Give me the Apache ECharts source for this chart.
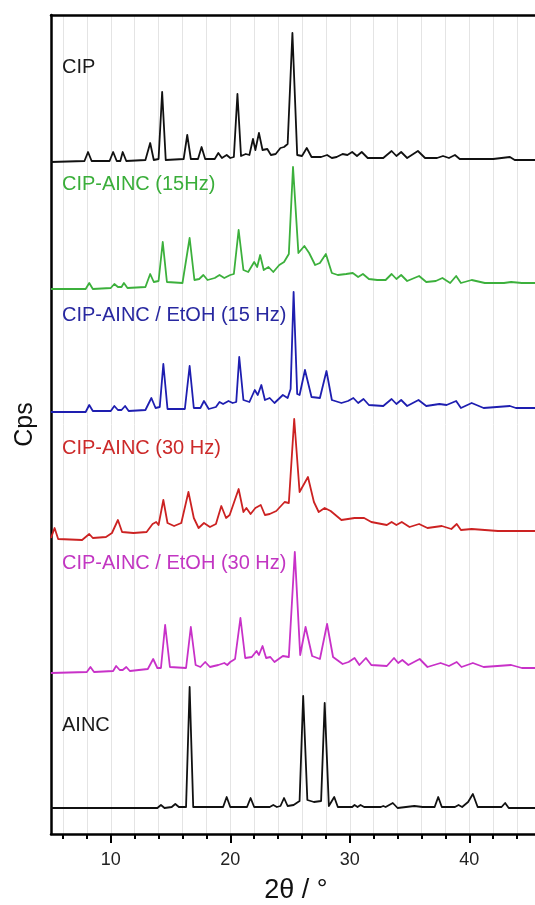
<!DOCTYPE html>
<html>
<head>
<meta charset="utf-8">
<script src="https://cdn.jsdelivr.net/npm/echarts@6/dist/echarts.min.js"></script>
<style>
html,body{margin:0;padding:0;background:#fff;}
#chart{width:535px;height:905px;}
</style>
</head>
<body>
<div id="chart"></div>
<script>
// 2θ tick values
var minorTickValues = [6,8,10,12,14,16,18,20,22,24,26,28,30,32,34,36,38,40,42,44,46];
var majorTickValues = [10,20,30,40];

// Pattern names (top to bottom)
var patternNames = ['CIP','CIP-AINC (15Hz)','CIP-AINC / EtOH (15 Hz)','CIP-AINC (30 Hz)','CIP-AINC / EtOH (30 Hz)','AINC'];

// [2θ, offset intensity]
var cip = [[5.0,672],[7.8,673],[8.1,682],[8.4,673],[9.9,673],[10.2,682],[10.5,673],[10.8,673],[11.0,682],[11.3,673],[12.9,674],[13.3,691],[13.6,674],[14.0,675],[14.3,742],[14.6,674],[16.1,675],[16.4,699],[16.7,675],[17.3,675],[17.6,687],[17.9,675],[18.7,675],[19.0,681],[19.3,676],[19.7,679],[20.0,676],[20.3,677],[20.6,740],[20.9,678],[21.3,680],[21.6,679],[21.9,695],[22.1,684],[22.4,701],[22.7,684],[23.1,685],[23.4,679],[23.8,680],[24.2,686],[24.5,687],[24.8,690],[25.2,801],[25.6,679],[26.0,678],[26.4,686],[26.8,677],[27.6,677],[28.1,679],[28.5,676],[28.9,677],[29.4,680],[29.8,679],[30.2,682],[30.6,678],[31.0,682],[31.5,676],[32.8,676],[33.5,683],[33.9,678],[34.3,682],[34.8,676],[35.7,683],[36.3,676],[37.3,676],[37.8,678],[38.3,676],[38.8,679],[39.2,675],[42.0,675],[43.4,677],[43.8,674],[46.0,674]];

var cipAinc15 = [[5.0,545],[7.9,545],[8.2,551],[8.5,545],[10.0,546],[10.3,550],[10.6,547],[10.9,547],[11.1,551],[11.4,546],[12.9,547],[13.3,560],[13.6,552],[14.0,553],[14.35,592],[14.7,552],[16.0,551],[16.6,596],[17.0,554],[17.4,555],[17.75,559],[18.1,554],[18.7,556],[19.1,559],[19.5,556],[20.0,559],[20.3,560],[20.7,604],[21.1,564],[21.5,562],[22.0,572],[22.25,567],[22.5,579],[22.8,564],[23.2,567],[23.6,562],[24.1,569],[24.5,572],[24.9,580],[25.25,667],[25.7,581],[26.2,588],[26.6,581],[27.1,569],[27.5,571],[28.0,580],[28.5,561],[29.0,559],[29.7,560],[30.25,561],[30.7,557],[31.1,560],[31.6,555],[32.3,554],[33.0,554],[33.5,560],[33.9,555],[34.3,559],[34.8,553],[35.8,558],[36.4,552],[37.2,553],[37.75,556],[38.4,551],[38.9,558],[39.3,551],[40.2,554],[41.3,551],[42.9,551],[43.5,552],[44.4,551],[46.0,551]];

var cipAincEtoh15 = [[5.0,422],[7.9,422],[8.2,429],[8.5,423],[10.0,423],[10.3,428],[10.6,424],[10.9,424],[11.2,428],[11.5,423],[12.9,424],[13.4,436],[13.75,426],[14.1,427],[14.4,470],[14.75,425],[16.2,425],[16.6,468],[16.95,426],[17.5,426],[17.8,433],[18.2,425],[18.8,427],[19.1,432],[19.4,430],[19.85,433],[20.2,431],[20.5,432],[20.75,477],[21.1,434],[21.6,432],[22.05,444],[22.3,439],[22.6,449],[22.9,434],[23.3,436],[23.7,431],[24.4,439],[24.8,436],[25.05,445],[25.3,542],[25.6,440],[25.8,439],[26.25,464],[26.8,437],[27.5,436],[28.05,463],[28.5,434],[29.3,431],[29.85,433],[30.3,436],[30.7,431],[31.15,435],[31.6,429],[32.8,428],[33.5,435],[33.9,430],[34.3,434],[34.8,428],[35.75,434],[36.4,428],[37.5,430],[38.1,429],[38.9,433],[39.3,426],[40.2,431],[41.2,426],[43.4,428],[43.9,426],[46.0,426]];

var cipAinc30 = [[5.0,296],[5.3,306],[5.6,295],[7.6,294],[8.2,300],[8.5,296],[9.6,297],[10.1,301],[10.6,314],[10.95,302],[11.9,301],[13.0,302],[13.5,310],[13.8,312],[14.0,309],[14.4,334],[14.75,311],[15.3,308],[15.9,311],[16.5,342],[16.95,316],[17.35,306],[17.8,311],[18.3,307],[18.8,310],[19.25,328],[19.65,316],[19.95,319],[20.7,345],[21.1,322],[21.35,326],[21.7,320],[22.1,326],[22.55,329],[22.9,319],[23.3,320],[23.85,323],[24.55,332],[24.9,331],[25.35,415],[25.8,342],[26.5,357],[27.0,332],[27.4,322],[27.9,326],[28.4,323],[29.3,314],[30.4,316],[31.2,316],[31.8,312],[33.1,309],[33.5,312],[33.9,309],[34.35,312],[35.0,307],[35.8,310],[36.5,306],[37.7,308],[38.5,305],[38.95,310],[39.3,304],[40.2,305],[42.4,303],[44.4,303],[46.0,303]];

var cipAincEtoh30 = [[5.0,161],[8.0,162],[8.3,167],[8.6,162],[10.2,163],[10.45,168],[10.75,164],[11.0,164],[11.3,167],[11.6,163],[13.1,165],[13.55,175],[13.9,166],[14.2,166],[14.55,209],[14.95,167],[16.3,166],[16.7,207],[17.1,169],[17.5,167],[17.9,172],[18.3,167],[19.0,169],[19.5,171],[19.75,169],[20.0,172],[20.4,175],[20.85,216],[21.25,176],[21.8,177],[22.2,183],[22.4,179],[22.7,188],[23.0,176],[23.35,177],[23.7,172],[24.4,178],[24.9,177],[25.4,282],[25.85,179],[26.3,207],[26.85,178],[27.5,175],[28.1,210],[28.6,177],[29.4,170],[29.9,172],[30.4,176],[30.8,169],[31.35,176],[31.8,169],[33.1,168],[33.7,176],[34.05,171],[34.4,174],[34.9,169],[35.85,175],[36.5,167],[37.6,171],[38.3,168],[38.95,172],[39.35,167],[40.3,171],[41.2,167],[43.5,169],[44.4,166],[46.0,166]];

var ainc = [[5.0,26],[13.9,26],[14.2,29],[14.5,26],[15.1,27],[15.4,30],[15.7,27],[16.3,27],[16.6,147],[16.9,27],[19.4,27],[19.7,37],[20.0,27],[21.4,27],[21.7,36],[22.0,27],[23.3,27],[23.6,29],[23.9,27],[24.2,28],[24.5,36],[24.8,28],[25.3,29],[25.8,33],[26.1,138],[26.45,34],[27.0,32],[27.6,33],[27.9,131],[28.25,28],[28.7,37],[29.0,27],[30.2,27],[30.4,29],[30.65,27],[30.9,29],[31.2,27],[32.6,27],[32.8,28],[33.0,27],[33.6,31],[34.0,26],[35.4,28],[36.1,27],[37.1,27],[37.4,37],[37.7,27],[38.8,27],[39.1,29],[39.4,27],[39.9,32],[40.3,40],[40.7,27],[42.7,27],[43.0,31],[43.3,26],[44.5,26],[46.0,26]];

var patterns = [cip, cipAinc15, cipAincEtoh15, cipAinc30, cipAincEtoh30, ainc];

// styling (kept separate from data)
var lineColors = ['#111111','#3cb03c','#1e1eb0','#cc2222','#c831c8','#111111'];
var textColors = ['#1a1a1a','#3aae3a','#2828a0','#cc2a2a','#c236c2','#1a1a1a'];
var labelY = [67, 184, 315, 448, 563, 725];

var FONT = '"Liberation Sans", Arial, sans-serif';
var chart = echarts.init(document.getElementById('chart'), null, {renderer:'canvas'});

var series = patterns.map(function(d, i){
  return {
    name: patternNames[i], type:'line', data:d, xAxisIndex:0, yAxisIndex:0,
    symbol:'none', smooth:false, silent:true, animation:false,
    lineStyle:{color:lineColors[i], width:1.8, join:'round'}
  };
});

var graphics = patternNames.map(function(n, i){
  return {type:'text', x:62, y:labelY[i], z:100, style:{text:n, fill:textColors[i], font:'20px ' + FONT, verticalAlign:'middle', align:'left'}};
});

chart.setOption({
  animation:false,
  backgroundColor:'#ffffff',
  textStyle:{fontFamily:FONT},
  grid:{left:51, top:15, width:490, height:819, outerBoundsMode:'none', containLabel:false},
  xAxis:[
    {type:'value', min:5, max:46, position:'bottom',
     axisLine:{show:true, onZero:false, lineStyle:{color:'#000', width:2.5}},
     axisTick:{show:true, customValues:minorTickValues, length:5, lineStyle:{color:'#000', width:2}},
     axisLabel:{show:false},
     splitLine:{show:true, lineStyle:{color:'#e4e4e4', width:1}}},
    {type:'value', min:5, max:46, position:'bottom',
     axisLine:{show:false, onZero:false},
     axisTick:{show:true, customValues:majorTickValues, length:9, lineStyle:{color:'#000', width:2}},
     axisLabel:{show:true, customValues:majorTickValues, fontSize:18, color:'#222', margin:17, fontFamily:FONT},
     splitLine:{show:false},
     name:'2θ / °', nameLocation:'middle', nameGap:43,
     nameTextStyle:{fontSize:27, color:'#111', fontFamily:FONT}},
    {type:'value', min:5, max:46, position:'top',
     axisLine:{show:true, onZero:false, lineStyle:{color:'#000', width:2.5}},
     axisTick:{show:false}, axisLabel:{show:false}, splitLine:{show:false}}
  ],
  yAxis:{type:'value', min:0, max:819,
    axisLine:{show:true, onZero:false, lineStyle:{color:'#000', width:2.5}},
    axisTick:{show:false}, axisLabel:{show:false}, splitLine:{show:false},
    name:'Cps', nameLocation:'middle', nameGap:13,
    nameTextStyle:{fontSize:25, color:'#111', fontFamily:FONT}},
  series: series,
  graphic: graphics
});
</script>
</body>
</html>
